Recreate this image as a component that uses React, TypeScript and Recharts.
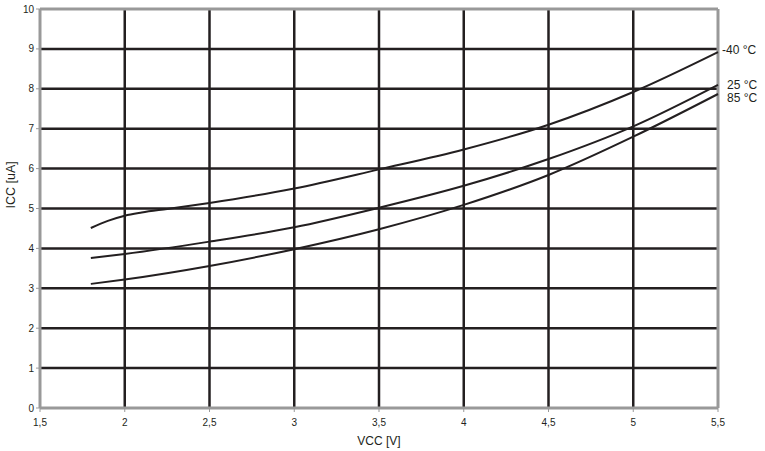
import {
  LineChart,
  Line,
  XAxis,
  YAxis,
  CartesianGrid,
  ReferenceLine,
  LabelList,
} from "recharts";

// Supply voltage (V) and supply current (uA) per temperature
const VCC_M40 = [1.8, 1.9, 2, 2.1, 2.25, 2.5, 3, 3.5, 4, 4.5, 5, 5.5];
const ICC_M40 = [4.51, 4.69, 4.82, 4.9, 4.99, 5.14, 5.5, 5.98, 6.48, 7.1, 7.92, 8.92];
const VCC_STD = [1.8, 2, 2.5, 3, 3.5, 4, 4.5, 5, 5.5];
const ICC_25 = [3.76, 3.86, 4.17, 4.53, 5.02, 5.57, 6.24, 7.06, 8.1];
const ICC_85 = [3.11, 3.22, 3.56, 3.98, 4.48, 5.09, 5.84, 6.8, 7.87];

const X_TICKS = [1.5, 2, 2.5, 3, 3.5, 4, 4.5, 5, 5.5];
const Y_TICKS = [0, 1, 2, 3, 4, 5, 6, 7, 8, 9, 10];

const INK = "#231f20";
const FRAME = "#999999";
const FONT = "'Liberation Sans', Arial, sans-serif";

const toRows = (xs: number[], ys: number[]) => xs.map((v, i) => ({ vcc: v, icc: ys[i] }));

const series = [
  { name: "-40 °C", data: toRows(VCC_M40, ICC_M40), dx: 4, dy: 2 },
  { name: "25 °C", data: toRows(VCC_STD, ICC_25), dx: 9, dy: 4 },
  { name: "85 °C", data: toRows(VCC_STD, ICC_85), dx: 9, dy: 8 },
];

const endLabel = (text: string, count: number, dx: number, dy: number) => (props: any) => {
  if (props.index !== count - 1) return null;
  return (
    <text x={props.x + dx} y={props.y + dy} fill={INK} fontSize={12} fontFamily={FONT}>
      {text}
    </text>
  );
};

export default function App() {
  return (
    <div style={{ position: "absolute", left: 0, top: 0, background: "#fff" }}>
      <LineChart width={765} height={451} margin={{ top: 9, right: 47, left: 10, bottom: 18 }}>
        <CartesianGrid
          stroke={INK}
          strokeWidth={2.5}
          horizontalValues={[1, 2, 3, 4, 5, 6, 7, 8, 9]}
          verticalValues={[2, 2.5, 3, 3.5, 4, 4.5, 5]}
        />
        <XAxis
          type="number"
          dataKey="vcc"
          domain={[1.5, 5.5]}
          ticks={X_TICKS}
          tickFormatter={(v) => String(v).replace(".", ",")}
          tick={{ fill: INK, fontSize: 10, fontFamily: FONT, dy: 5 }}
          axisLine={false}
          tickLine={{ stroke: FRAME }}
          tickSize={4}
          height={25}
          label={{ value: "VCC [V]", position: "insideBottom", offset: -12, fill: INK, fontSize: 12, fontFamily: FONT }}
          allowDuplicatedCategory={false}
        />
        <YAxis
          type="number"
          domain={[0, 10]}
          ticks={Y_TICKS}
          tick={{ fill: INK, fontSize: 10, fontFamily: FONT }}
          axisLine={false}
          tickLine={{ stroke: FRAME }}
          tickSize={4}
          width={30}
          label={{ value: "ICC [uA]", angle: -90, position: "insideLeft", offset: 1, fill: INK, fontSize: 12.5, fontFamily: FONT }}
        />
        <ReferenceLine y={0} stroke={FRAME} strokeWidth={3} />
        <ReferenceLine y={10} stroke={FRAME} strokeWidth={3} />
        <ReferenceLine x={1.5} stroke={FRAME} strokeWidth={3} />
        <ReferenceLine x={5.5} stroke={FRAME} strokeWidth={3} />
        {series.map((s) => (
          <Line
            key={s.name}
            data={s.data}
            dataKey="icc"
            type="monotone"
            stroke={INK}
            strokeWidth={2}
            dot={false}
            isAnimationActive={false}
          >
            <LabelList dataKey="icc" content={endLabel(s.name, s.data.length, s.dx, s.dy)} />
          </Line>
        ))}
      </LineChart>
    </div>
  );
}
